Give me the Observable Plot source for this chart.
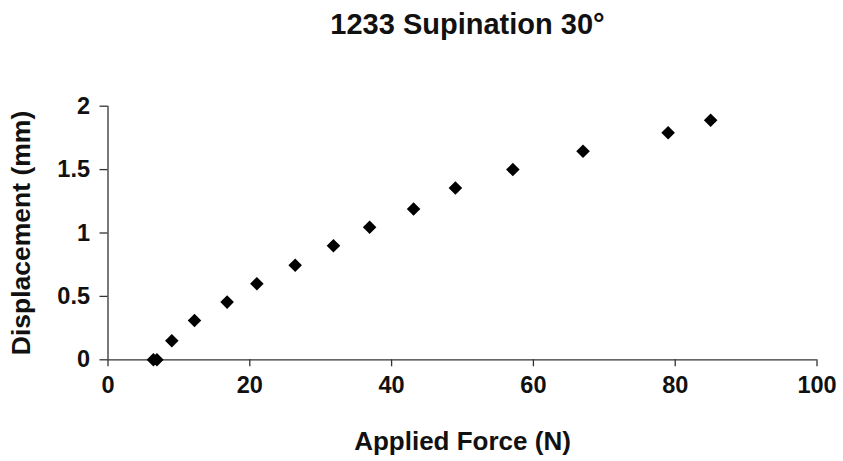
<!DOCTYPE html>
<html>
<head>
<meta charset="utf-8">
<script src="https://cdn.jsdelivr.net/npm/d3@7"></script>
<script src="https://cdn.jsdelivr.net/npm/@observablehq/plot@0.6"></script>
<style>
  html, body { margin: 0; padding: 0; background: #fff; }
  #title { box-sizing: border-box; width: 843px; height: 48px; line-height: 48px; text-align: center; padding-left: 92px;
           font-family: "Liberation Sans", Arial, sans-serif; font-weight: bold; font-size: 29px; color: #111; }
  svg { display: block; }
</style>
</head>
<body>
<div id="title">1233 Supination 30°</div>
<div id="chart"></div>
<script>
const titleText = "1233 Supination 30°";
const xLabel = "Applied Force (N)";
const yLabel = "Displacement (mm)";
const force = [6.4, 6.9, 9.0, 12.2, 16.8, 21.0, 26.4, 31.8, 36.9, 43.1, 49.0, 57.1, 67.0, 79.0, 85.0];
const displacement = [0, 0, 0.15, 0.31, 0.455, 0.60, 0.745, 0.90, 1.045, 1.19, 1.355, 1.50, 1.645, 1.79, 1.89];
const xTicks = [0, 20, 40, 60, 80, 100];
const yTicks = [0, 0.5, 1, 1.5, 2];

document.getElementById("title").textContent = titleText;
const data = force.map((f, i) => ({force: f, disp: displacement[i]}));
const font = "Liberation Sans, Arial, sans-serif";

const chart = Plot.plot({
  width: 843,
  height: 413,
  marginTop: 57.7,
  marginBottom: 101.7,
  marginLeft: 107.5,
  marginRight: 26.5,
  style: {fontFamily: font, fontWeight: "bold", fontSize: "23.5px", color: "#111", background: "#fff"},
  x: {domain: [0, 100]},
  y: {domain: [0, 2]},
  marks: [
    Plot.axisX({ticks: xTicks, tickSize: 7, tickPadding: 10, tickFormat: d => String(d), label: null, stroke: "#333", strokeWidth: 1.3}),
    Plot.axisY({ticks: yTicks, tickSize: 8, tickPadding: 10, tickFormat: d => String(d), label: null, stroke: "#333", strokeWidth: 1.3}),
    Plot.ruleY([0], {stroke: "#333", strokeWidth: 1.3}),
    Plot.ruleX([0], {stroke: "#333", strokeWidth: 1.3}),
    Plot.dot(data, {x: "force", y: "disp", symbol: "diamond2", r: 6.1, fill: "#000", stroke: "none"}),
    Plot.text([xLabel], {frameAnchor: "bottom", dy: 90, text: d => d, fontSize: 26, fontWeight: "bold", fill: "#111"}),
    Plot.text([yLabel], {frameAnchor: "left", textAnchor: "middle", dx: -86, rotate: -90, text: d => d, fontSize: 26.5, fontWeight: "bold", fill: "#111"})
  ]
});
document.getElementById("chart").appendChild(chart);
</script>
</body>
</html>
